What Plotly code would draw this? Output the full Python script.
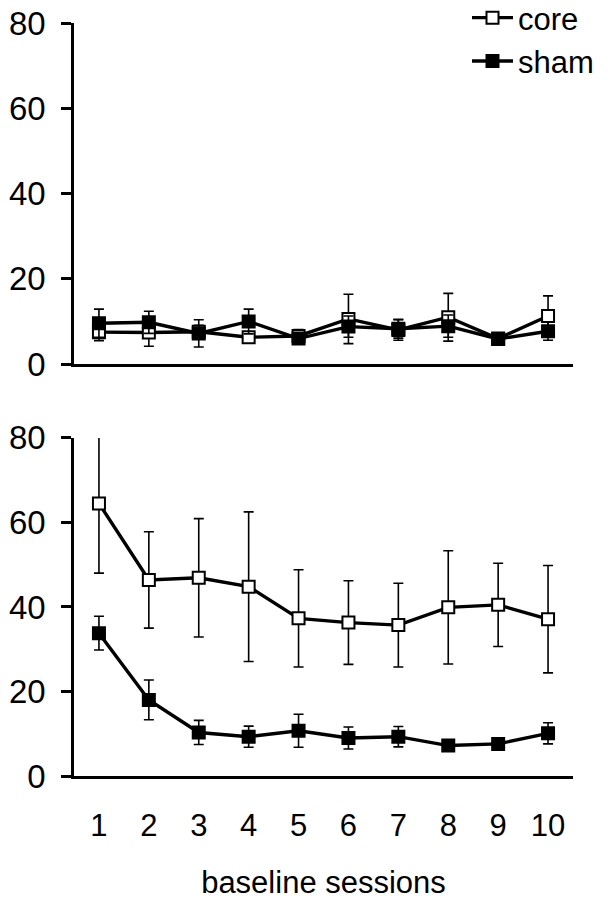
import plotly.graph_objects as go

sessions = list(range(1, 11))
tick_labels = [str(s) for s in sessions]

top_core = [7.5, 7.4, 7.6, 6.3, 6.6, 10.6, 8.0, 11.0, 6.0, 11.3]
top_core_err = [2.0, 3.2, 1.5, 1.0, 1.5, 5.8, 2.4, 5.6, 0.8, 4.7]
top_sham = [9.6, 9.8, 7.2, 10.0, 6.0, 8.8, 8.3, 8.9, 5.9, 7.7]
top_sham_err = [3.3, 2.6, 3.2, 2.9, 1.0, 2.5, 2.2, 2.6, 0.8, 2.1]

bot_core = [64.5, 46.4, 46.9, 44.8, 37.3, 36.3, 35.7, 39.9, 40.5, 37.1]
bot_core_err = [16.5, 11.4, 14.0, 17.7, 11.5, 9.9, 9.9, 13.4, 9.85, 12.7]
bot_sham = [33.8, 18.0, 10.3, 9.3, 10.7, 9.0, 9.3, 7.2, 7.6, 10.1]
bot_sham_err = [4.0, 4.7, 2.85, 2.5, 3.9, 2.6, 2.4, 1.0, 1.0, 2.5]

FONT = "Arial, Liberation Sans, sans-serif"


def series(x, y, err, name, fill, xa, ya, show):
    return go.Scatter(
        x=x, y=y, name=name, mode="lines+markers",
        xaxis=xa, yaxis=ya, showlegend=show, legendgroup=name,
        cliponaxis=False,
        line=dict(color="black", width=3.4),
        marker=dict(symbol="square", size=12, color=fill,
                    line=dict(color="black", width=2)),
        error_y=dict(type="data", array=err, visible=True,
                     color="black", thickness=1.6, width=5),
    )


fig = go.Figure()
fig.add_trace(series(sessions, top_core, top_core_err, "core", "white", "x", "y", True))
fig.add_trace(series(sessions, top_sham, top_sham_err, "sham", "black", "x", "y", True))
fig.add_trace(series(sessions, bot_core, bot_core_err, "core", "white", "x2", "y2", False))
fig.add_trace(series(sessions, bot_sham, bot_sham_err, "sham", "black", "x2", "y2", False))

yax = dict(range=[0, 80], tickvals=[0, 20, 40, 60, 80], showgrid=False, zeroline=False,
           showline=True, linecolor="black", linewidth=2.5, automargin=False,
           ticks="outside", ticklen=10, tickwidth=2.5, tickcolor="black",
           tickfont=dict(family=FONT, size=33, color="black"), ticklabelstandoff=9)
xax = dict(range=[0.5, 10.5], showgrid=False, zeroline=False, automargin=False,
           showline=True, linecolor="black", linewidth=2.5, ticks="")

fig.update_layout(
    width=611, height=900,
    margin=dict(l=74, r=38, t=23, b=124, autoexpand=False),
    paper_bgcolor="white", plot_bgcolor="white",
    font=dict(family=FONT, color="black"),
    xaxis=dict(**xax, domain=[0, 1], anchor="y", showticklabels=False),
    yaxis=dict(**yax, domain=[0.547, 1], anchor="x"),
    xaxis2=dict(**xax, domain=[0, 1], anchor="y2",
                tickvals=sessions, ticktext=tick_labels,
                tickfont=dict(family=FONT, size=31, color="black"),
                ticklabelstandoff=20,
                title=dict(text="baseline sessions", standoff=33,
                           font=dict(family=FONT, size=31, color="black"))),
    yaxis2=dict(**yax, domain=[0, 0.449], anchor="x2"),
    legend=dict(x=(467 - 74) / 499, y=1.0425, xanchor="left", yanchor="top",
                font=dict(family=FONT, size=31, color="black"), itemwidth=41,
                bgcolor="rgba(0,0,0,0)", tracegroupgap=0, itemsizing="trace"),
)

fig.write_html("out.html", config={"displayModeBar": False},
               post_script="document.body.style.margin='0';")
